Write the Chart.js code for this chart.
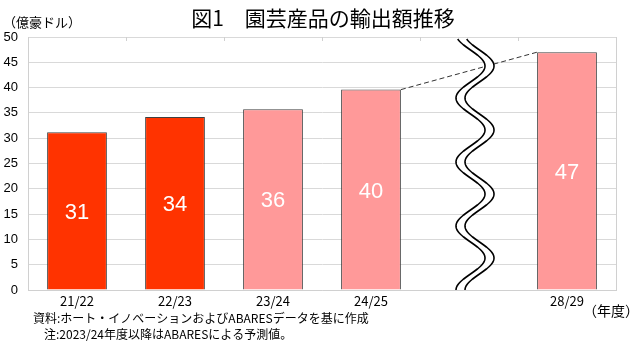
<!DOCTYPE html>
<html><head><meta charset="utf-8">
<script src="https://cdn.jsdelivr.net/npm/chart.js@4/dist/chart.umd.min.js"></script>
<style>html,body{margin:0;padding:0;background:#fff}#wrap{width:640px;height:351px}</style>
</head><body><div id="wrap"><canvas id="c" width="640" height="351"></canvas></div>
<script>
const categories = ['21/22','22/23','23/24','24/25','','28/29'];
const exportValues = [31.2, 34.2, 35.7, 39.6, null, 47.0];
const valueLabels = ['31','34','36','40','','47'];
const barColors = ['#FF3300','#FF3300','#FF9999','#FF9999','#FF9999','#FF9999'];
const yTicks = [0,5,10,15,20,25,30,35,40,45,50];
const titleText = '図1　園芸産品の輸出額推移';
const unitText = '（億豪ドル）';
const xUnitText = '（年度）';
const note1 = '資料:ホート・イノベーションおよびABARESデータを基に作成';
const note2 = '注:2023/24年度以降はABARESによる予測値。';

const JP = '"Noto Sans CJK JP", sans-serif';

const deco = {
  id: 'deco',
  afterDatasetsDraw(chart) {
    const ctx = chart.ctx, ca = chart.chartArea;
    const xs = chart.scales.x, ys = chart.scales.y;
    const meta = chart.getDatasetMeta(0);
    // value labels
    ctx.save();
    ctx.fillStyle = '#fff';
    ctx.font = '22px "Liberation Sans", Arial, sans-serif';
    ctx.textAlign = 'center'; ctx.textBaseline = 'middle';
    meta.data.forEach((b, i) => {
      if (exportValues[i] == null) return;
      ctx.fillText(valueLabels[i], b.x, (b.y + b.base) / 2 + 2);
    });
    // dashed connector
    const b3 = meta.data[3], b5 = meta.data[5];
    ctx.strokeStyle = '#333'; ctx.lineWidth = 1; ctx.setLineDash([5, 3]);
    ctx.beginPath();
    ctx.moveTo(b3.x + b3.width / 2, b3.y);
    ctx.lineTo(b5.x - b5.width / 2, b5.y);
    ctx.stroke();
    ctx.setLineDash([]);
    // wave break
    const xc = xs.getPixelForValue(4) + 6;
    const A = 14.5, P = 64, peak = ys.top + 29, gap = 9;
    const y0 = ca.top + 2, y1 = ca.bottom;
    const fx = y => xc - gap / 2 + A * Math.cos(2 * Math.PI * (y - peak) / P);
    ctx.beginPath();
    for (let y = y0; y <= y1; y += 1) { const x = fx(y); y === y0 ? ctx.moveTo(x, y) : ctx.lineTo(x, y); }
    for (let y = y1; y >= y0; y -= 1) ctx.lineTo(fx(y) + gap, y);
    ctx.closePath();
    ctx.fillStyle = '#fff'; ctx.fill();
    ctx.strokeStyle = '#000'; ctx.lineWidth = 1.6;
    [0, gap].forEach(off => {
      ctx.beginPath();
      for (let y = y0; y <= y1; y += 1) { const x = fx(y) + off; y === y0 ? ctx.moveTo(x, y) : ctx.lineTo(x, y); }
      ctx.stroke();
    });
    ctx.restore();
  },
  afterDraw(chart) {
    const ctx = chart.ctx, ca = chart.chartArea;
    ctx.save();
    // top tick marks
    ctx.strokeStyle = '#d0d0d0'; ctx.lineWidth = 1;
    for (let i = 0; i <= categories.length; i++) {
      const x = Math.round(ca.left + (ca.right - ca.left) * i / categories.length) + 0.5;
      ctx.beginPath(); ctx.moveTo(x, ca.top); ctx.lineTo(x, ca.top + 4); ctx.stroke();
    }
    ctx.fillStyle = '#000';
    ctx.textBaseline = 'middle';
    ctx.textAlign = 'center';
    ctx.font = '21px ' + JP;
    ctx.fillText(titleText, 323, 18);
    ctx.textAlign = 'left';
    ctx.font = '13px ' + JP;
    ctx.fillText(unitText, 3, 22);
    ctx.font = '14px ' + JP;
    ctx.fillText(xUnitText, 583, 311);
    ctx.font = '12px ' + JP;
    ctx.fillText(note1, 33, 318);
    ctx.fillText(note2, 44, 334);
    ctx.restore();
  }
};

new Chart(document.getElementById('c'), {
  type: 'bar',
  data: {
    labels: categories,
    datasets: [{
      data: exportValues,
      backgroundColor: barColors,
      borderColor: '#404040',
      borderWidth: 1,
      barPercentage: 0.61,
      categoryPercentage: 1
    }]
  },
  options: {
    responsive: false,
    animation: false,
    devicePixelRatio: 1,
    layout: { padding: { top: 37, right: 24, left: 0, bottom: 0 } },
    plugins: { legend: { display: false }, tooltip: { enabled: false }, title: { display: false } },
    scales: {
      x: {
        afterFit: s => { s.height = 61; },
        grid: { display: false, drawTicks: false },
        border: { display: true, color: '#d0d0d0' },
        ticks: { color: '#000', font: { family: JP, size: 13 }, padding: 3, maxRotation: 0 }
      },
      y: {
        min: 0, max: 50,
        afterFit: s => { s.width = 28; },
        afterBuildTicks: s => { s.ticks = yTicks.map(v => ({ value: v })); },
        grid: { color: '#d9d9d9', drawTicks: false },
        border: { display: true, color: '#d0d0d0' },
        ticks: { color: '#000', font: { family: '"Liberation Sans", Arial, sans-serif', size: 13 }, padding: 10 }
      },
      yr: {
        position: 'right', min: 0, max: 50,
        afterFit: s => { s.width = 0; },
        grid: { display: false, drawTicks: false },
        border: { display: true, color: '#d0d0d0' },
        ticks: { display: false }
      }
    }
  },
  plugins: [deco]
});
</script></body></html>
